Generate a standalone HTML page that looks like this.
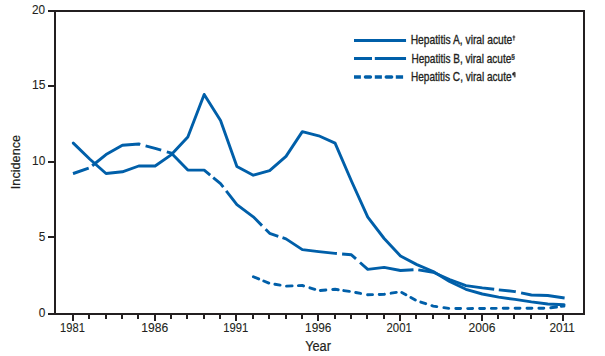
<!DOCTYPE html>
<html><head><meta charset="utf-8"><style>
html,body{margin:0;padding:0;background:#fff;}
svg{display:block;}
</style></head><body>
<svg width="605" height="356" viewBox="0 0 605 356">
<rect width="605" height="356" fill="#fff"/>
<path d="M48,11H585M584,10V315M48,314H585M55,10V315" fill="none" stroke="#231f20" stroke-width="2"/>
<path d="M48,314H55" stroke="#231f20" stroke-width="2"/>
<path d="M48,237H55" stroke="#231f20" stroke-width="2"/>
<path d="M48,162H55" stroke="#231f20" stroke-width="2"/>
<path d="M48,86H55" stroke="#231f20" stroke-width="2"/>
<path d="M48,11H55" stroke="#231f20" stroke-width="2"/>
<path d="M73,314V321" stroke="#231f20" stroke-width="2"/>
<path d="M89,314V319" stroke="#231f20" stroke-width="2"/>
<path d="M106,314V319" stroke="#231f20" stroke-width="2"/>
<path d="M122,314V319" stroke="#231f20" stroke-width="2"/>
<path d="M138,314V319" stroke="#231f20" stroke-width="2"/>
<path d="M155,314V321" stroke="#231f20" stroke-width="2"/>
<path d="M171,314V319" stroke="#231f20" stroke-width="2"/>
<path d="M187,314V319" stroke="#231f20" stroke-width="2"/>
<path d="M204,314V319" stroke="#231f20" stroke-width="2"/>
<path d="M220,314V319" stroke="#231f20" stroke-width="2"/>
<path d="M236,314V321" stroke="#231f20" stroke-width="2"/>
<path d="M253,314V319" stroke="#231f20" stroke-width="2"/>
<path d="M269,314V319" stroke="#231f20" stroke-width="2"/>
<path d="M286,314V319" stroke="#231f20" stroke-width="2"/>
<path d="M302,314V319" stroke="#231f20" stroke-width="2"/>
<path d="M318,314V321" stroke="#231f20" stroke-width="2"/>
<path d="M335,314V319" stroke="#231f20" stroke-width="2"/>
<path d="M351,314V319" stroke="#231f20" stroke-width="2"/>
<path d="M367,314V319" stroke="#231f20" stroke-width="2"/>
<path d="M384,314V319" stroke="#231f20" stroke-width="2"/>
<path d="M400,314V321" stroke="#231f20" stroke-width="2"/>
<path d="M416,314V319" stroke="#231f20" stroke-width="2"/>
<path d="M433,314V319" stroke="#231f20" stroke-width="2"/>
<path d="M449,314V319" stroke="#231f20" stroke-width="2"/>
<path d="M465,314V319" stroke="#231f20" stroke-width="2"/>
<path d="M482,314V321" stroke="#231f20" stroke-width="2"/>
<path d="M498,314V319" stroke="#231f20" stroke-width="2"/>
<path d="M514,314V319" stroke="#231f20" stroke-width="2"/>
<path d="M531,314V319" stroke="#231f20" stroke-width="2"/>
<path d="M547,314V319" stroke="#231f20" stroke-width="2"/>
<path d="M563,314V321" stroke="#231f20" stroke-width="2"/>
<path d="M73.30,143.10 L89.66,159.00 L106.02,173.50 L122.38,171.80 L138.74,166.00 L155.10,166.00 L171.46,154.60 L187.82,137.00 L204.18,94.40 L220.54,120.40 L236.90,166.50 L253.26,175.20 L269.62,170.60 L285.98,156.40 L302.34,131.60 L318.70,135.80 L335.06,143.10 L351.42,181.00 L367.78,217.20 L384.14,238.50 L400.50,256.00 L416.86,264.60 L433.22,271.50 L449.58,281.50 L465.94,289.30 L482.30,294.00 L498.66,297.10 L515.02,299.40 L531.38,301.90 L547.74,304.00 L564.10,304.80" fill="none" stroke="#005fa9" stroke-width="2.9" stroke-linejoin="round" stroke-linecap="round"/>
<path d="M73.00,173.60 L73.30,173.50 L88.70,168.13 M92.20,165.75 L106.02,154.60 L122.38,145.20 L138.74,144.00 L140.30,144.41 M145.60,145.80 L155.10,148.30 L161.20,150.13 M166.80,151.80 L171.46,153.20 L187.82,170.10 L204.18,170.10 L210.20,175.07 M213.20,177.54 L220.54,183.60 L223.30,187.14 M226.20,190.87 L236.90,204.60 L253.26,216.80 L262.00,225.61 M265.60,229.25 L269.62,233.30 L278.30,236.27 M282.50,237.71 L285.98,238.90 L302.34,249.60 L318.70,251.60 L335.06,253.40 L336.90,253.56 M342.10,254.00 L351.42,254.80 L356.00,258.89 M360.00,262.46 L367.78,269.40 L384.14,267.40 L400.50,270.50 L413.50,269.78 M418.30,269.83 L433.22,272.20 L449.58,279.50 L465.94,285.60 L482.30,287.90 L494.20,289.28 M498.80,289.82 L515.02,291.60 L515.80,291.76 M521.10,292.86 L531.38,295.00 L547.74,295.50 L564.60,297.97" fill="none" stroke="#005fa9" stroke-width="2.9" stroke-linejoin="round"/>
<path d="M253.40,276.76 L258.70,278.93 M263.80,281.02 L268.80,283.06 M274.90,284.27 L280.10,285.13 M286.50,286.08 L292.10,285.88 M298.40,285.64 L302.34,285.50 L303.60,285.89 M309.90,287.86 L314.80,289.38 M320.30,290.47 L325.90,290.03 M332.70,289.49 L335.06,289.30 L338.20,289.76 M343.80,290.58 L349.40,291.40 M355.70,292.51 L360.60,293.44 M367.60,294.77 L367.78,294.80 L372.50,294.66 M379.20,294.45 L384.14,294.30 L384.40,294.26 M391.10,293.19 L396.30,292.37 M401.80,292.42 L405.90,294.70 M410.90,297.48 L415.30,299.93 M420.80,302.08 L425.70,303.66 M431.90,305.67 L433.22,306.10 L436.80,306.63 M443.90,307.67 L448.70,308.37 M455.80,308.54 L460.60,308.57 M467.70,308.59 L472.60,308.56 M479.60,308.52 L482.30,308.50 L484.50,308.47 M491.40,308.39 L496.20,308.33 M503.20,308.30 L508.10,308.30 M515.10,308.30 L520.00,308.30 M527.00,308.30 L531.38,308.30 L531.90,308.30 M538.90,308.25 L543.80,308.22 M550.80,307.79 L556.50,307.02 M561.30,306.38 L563.90,306.03" fill="none" stroke="#005fa9" stroke-width="2.9" stroke-linecap="round"/>
<path d="M354,40.45H406.05" stroke="#005fa9" stroke-width="2.9"/>
<path d="M354,58.45H372M374.8,58.45H406.05" stroke="#005fa9" stroke-width="2.9"/>
<path d="M354,77H360.9M381.9,77H374.8M395.8,77H403.1" stroke="#005fa9" stroke-width="3.3"/>
<path d="M365.4,77H370.5M386.2,77H391.7" stroke="#005fa9" stroke-width="3.3" stroke-linecap="round"/>
<path d="M513.9,35.4V40.6M512.5,37H515.3" stroke="#231f20" stroke-width="0.95" fill="none"/>
<path d="M513.6,72.4H515.1V77.3M514.3,72.4V77.3" stroke="#231f20" stroke-width="0.8" fill="none"/><ellipse cx="513.3" cy="74.1" rx="1.1" ry="1.5" fill="#231f20"/>
<g font-family="Liberation Sans, sans-serif" fill="#231f20" stroke="#231f20" stroke-width="0.35"><text transform="translate(31.99,13.90) scale(0.9412,1.0171)" font-size="12.5" stroke-width="0.1">20</text>
<text transform="translate(32.03,88.70) scale(0.9714,1.0471)" font-size="12.5" stroke-width="0.1">15</text>
<text transform="translate(32.05,164.70) scale(0.9520,1.0171)" font-size="12.5" stroke-width="0.1">10</text>
<text transform="translate(38.73,240.80) scale(0.9500,1.0471)" font-size="12.5" stroke-width="0.1">5</text>
<text transform="translate(38.73,316.90) scale(0.9500,1.0057)" font-size="12.5" stroke-width="0.1">0</text>
<text transform="translate(60.11,331.70) scale(0.8895,0.9943)" font-size="12.5" stroke-width="0.1">1981</text>
<text transform="translate(141.23,331.70) scale(0.9676,0.9943)" font-size="12.5" stroke-width="0.1">1986</text>
<text transform="translate(223.30,331.70) scale(0.9010,0.9943)" font-size="12.5" stroke-width="0.1">1991</text>
<text transform="translate(305.05,331.70) scale(0.9486,0.9943)" font-size="12.5" stroke-width="0.1">1996</text>
<text transform="translate(386.52,331.70) scale(0.9113,0.9943)" font-size="12.5" stroke-width="0.1">2001</text>
<text transform="translate(468.47,331.70) scale(0.9698,0.9943)" font-size="12.5" stroke-width="0.1">2006</text>
<text transform="translate(549.49,331.70) scale(0.9471,0.9943)" font-size="12.5" stroke-width="0.1">2011</text>
<text transform="translate(305.13,350.70) scale(0.9472,1.0486)" font-size="13.5" stroke-width="0.2">Year</text>
<text transform="translate(19.7,189.17) rotate(-90) scale(0.9393,0.9946)" font-size="13.5" stroke-width="0.2">Incidence</text>
<text transform="translate(410.70,43.70) scale(0.7968,0.9714)" font-size="12.9">Hepatitis A, viral acute</text>
<text transform="translate(411.42,62.70) scale(0.7787,0.9714)" font-size="12.9">Hepatitis B, viral acute</text>
<text transform="translate(410.92,80.70) scale(0.7804,0.9714)" font-size="12.9">Hepatitis C, viral acute</text>
<text transform="translate(511.36,58.69) scale(0.9429,0.9455)" font-size="7" stroke-width="0.2" font-weight="bold">§</text></g>
</svg>
</body></html>
